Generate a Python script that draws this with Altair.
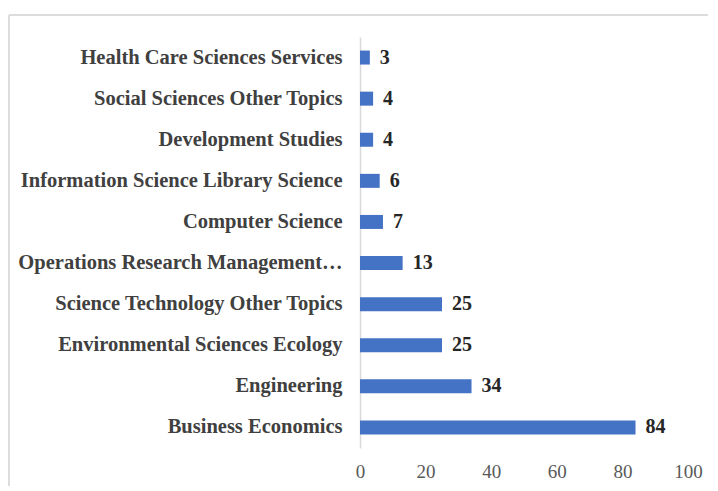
import altair as alt
import pandas as pd

categories = [
    "Health Care Sciences Services",
    "Social Sciences Other Topics",
    "Development Studies",
    "Information Science Library Science",
    "Computer Science",
    "Operations Research Management Science",
    "Science Technology Other Topics",
    "Environmental Sciences Ecology",
    "Engineering",
    "Business Economics",
]
counts = [3, 4, 4, 6, 7, 13, 25, 25, 34, 84]
x_ticks = [0, 20, 40, 60, 80, 100]

df = pd.DataFrame({"category": categories, "count": counts})

W, H = 328, 411
PAD_L, PAD_T = 352, 29

y_enc = alt.Y(
    "category:N",
    sort=categories,
    title=None,
    axis=alt.Axis(
        labelFont="Liberation Serif",
        labelFontSize=20.5,
        labelFontWeight="bold",
        labelColor="#404040",
        labelPadding=18,
        labelLimit=400,
        labelExpr="datum.label == 'Operations Research Management Science' ? 'Operations Research Management\u2026' : datum.label",
        ticks=False,
        domainColor="#d9d9d9",
        domainWidth=1.5,
    ),
    scale=alt.Scale(paddingInner=0.0, paddingOuter=0.0),
)
x_enc = alt.X(
    "count:Q",
    title=None,
    scale=alt.Scale(domain=[0, 100], nice=False),
    axis=alt.Axis(
        values=x_ticks,
        labelFont="Liberation Serif",
        labelFontSize=19,
        labelColor="#595959",
        labelPadding=14,
        labelFlush=False,
        ticks=False,
        domain=False,
        grid=False,
    ),
)

bars = alt.Chart(df).mark_bar(color="#4472C4", size=14).encode(x=x_enc, y=y_enc)

text = alt.Chart(df).mark_text(
    align="left",
    baseline="middle",
    dx=10,
    font="Liberation Serif",
    fontSize=20,
    fontWeight="bold",
    color="#262626",
).encode(x="count:Q", y=alt.Y("category:N", sort=categories), text="count:Q")

border_top = alt.Chart(df).mark_rule(color="#dcdcdc", strokeWidth=2).encode(
    x=alt.value(-351), x2=alt.value(718 - 360), y=alt.value(-22)
)
border_left = alt.Chart(df).mark_rule(color="#dcdcdc", strokeWidth=2).encode(
    x=alt.value(-351), y=alt.value(-22), y2=alt.value(491 - 37)
)

chart = (
    alt.layer(border_top, border_left, bars, text)
    .properties(
        width=W,
        height=H,
        background="white",
        autosize=alt.AutoSizeParams(type="none"),
        padding={"left": PAD_L, "top": PAD_T, "right": 20, "bottom": 38},
    )
    .configure_view(stroke=None, strokeWidth=0)
)

chart.save("out.html", embed_options={"renderer": "svg", "actions": False})
